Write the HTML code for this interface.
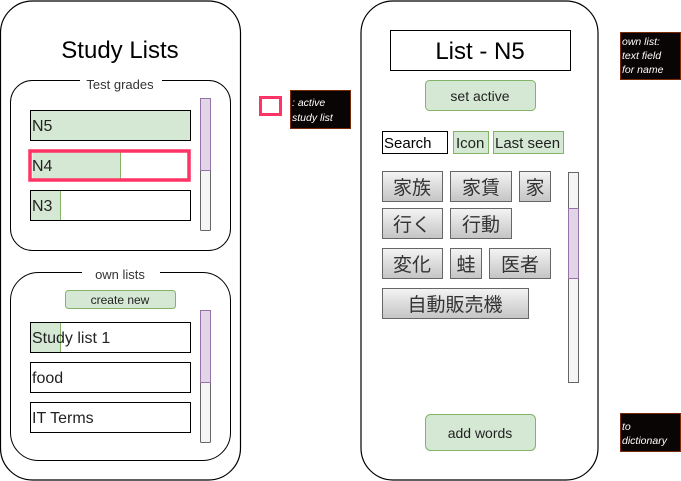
<!DOCTYPE html>
<html><head><meta charset="utf-8"><style>
html,body{margin:0;padding:0;background:#fff;}
svg{display:block;}
text{font-family:"Liberation Sans","Noto Sans CJK JP",sans-serif;}
</style></head><body>
<svg width="681" height="481" viewBox="0 0 681 481" xmlns="http://www.w3.org/2000/svg">
<defs>
<linearGradient id="g" x1="0" y1="0" x2="0" y2="1"><stop offset="0" stop-color="#f4f4f4"/><stop offset="1" stop-color="#c4c4c4"/></linearGradient>
</defs>
<!-- Left panel -->
<rect x="0.5" y="1" width="240" height="479" rx="32" fill="#fff" stroke="#000" stroke-width="1.2"/>
<text x="120" y="58" font-size="24" text-anchor="middle" fill="#000">Study Lists</text>
<rect x="10.5" y="80.5" width="220" height="170" rx="22" fill="none" stroke="#000"/>
<rect x="80" y="76" width="82" height="10" fill="#fff"/>
<text x="120" y="89" font-size="13" text-anchor="middle" fill="#333">Test grades</text>
<rect x="30.5" y="110.5" width="160" height="30" fill="#d5e8d4" stroke="#000"/>
<text x="32" y="131" font-size="16" fill="#222">N5</text>
<rect x="32.5" y="152.5" width="156" height="26" fill="#fff"/>
<rect x="32.5" y="152.5" width="88" height="26" fill="#d5e8d4"/>
<line x1="120.5" y1="152" x2="120.5" y2="179" stroke="#82b366"/>
<rect x="30" y="151" width="159" height="29" fill="none" stroke="#ff3366" stroke-width="3.5"/>
<text x="32" y="171" font-size="16" fill="#222">N4</text>
<rect x="30.5" y="190.5" width="160" height="30" fill="#fff" stroke="#000"/>
<rect x="31" y="191" width="29" height="29" fill="#d5e8d4"/>
<line x1="60.5" y1="191" x2="60.5" y2="220" stroke="#82b366"/>
<text x="32" y="211" font-size="16" fill="#222">N3</text>
<rect x="200.5" y="98.5" width="10" height="132" rx="1" fill="#f5f5f5" stroke="#666"/>
<rect x="200.5" y="98.5" width="10" height="72" fill="#e1d5e7" stroke="#9673a6"/>

<rect x="10.5" y="272.5" width="220" height="188" rx="28" fill="none" stroke="#000"/>
<rect x="82" y="268" width="78" height="10" fill="#fff"/>
<text x="120" y="279" font-size="13" text-anchor="middle" fill="#333">own lists</text>
<rect x="65.5" y="290.5" width="110" height="18" rx="3" fill="#d5e8d4" stroke="#82b366"/>
<text x="120" y="304" font-size="12" text-anchor="middle" fill="#222">create new</text>
<rect x="30.5" y="322.5" width="160" height="30" fill="#fff" stroke="#000"/>
<rect x="31" y="323" width="29" height="29" fill="#d5e8d4"/>
<line x1="60.5" y1="323" x2="60.5" y2="352" stroke="#82b366"/>
<text x="32" y="343" font-size="16" fill="#222">Study list 1</text>
<rect x="30.5" y="362.5" width="160" height="30" fill="#fff" stroke="#000"/>
<text x="32" y="383" font-size="16" fill="#222">food</text>
<rect x="30.5" y="402.5" width="160" height="30" fill="#fff" stroke="#000"/>
<text x="32" y="423" font-size="16" fill="#222">IT Terms</text>
<rect x="200.5" y="310.5" width="10" height="132" rx="1" fill="#f5f5f5" stroke="#666"/>
<rect x="200.5" y="310.5" width="10" height="72" fill="#e1d5e7" stroke="#9673a6"/>

<!-- legend -->
<rect x="260.5" y="97.5" width="20" height="17" fill="#fff" stroke="#ff3366" stroke-width="3"/>
<rect x="290.5" y="90.5" width="60" height="38" fill="#0a0505" stroke="#7a2a0a"/>
<text x="292" y="106" font-size="10.5" font-style="italic" fill="#fff">: active</text>
<text x="292" y="121" font-size="10.5" font-style="italic" fill="#fff">study list</text>

<!-- Right panel -->
<rect x="361" y="1" width="237" height="479" rx="32" fill="#fff" stroke="#000" stroke-width="1.2"/>
<rect x="390.5" y="30.5" width="180" height="40" fill="#fff" stroke="#000"/>
<text x="480" y="59" font-size="24" text-anchor="middle" fill="#000">List - N5</text>
<rect x="425.5" y="80.5" width="110" height="30" rx="4" fill="#d5e8d4" stroke="#82b366"/>
<text x="480" y="101" font-size="14" text-anchor="middle" fill="#222">set active</text>
<rect x="382.5" y="131.5" width="65" height="22" fill="#fff" stroke="#000"/>
<text x="384" y="148" font-size="15" fill="#000">Search</text>
<rect x="453.5" y="131.5" width="35" height="22" fill="#d5e8d4" stroke="#82b366"/>
<text x="456" y="148" font-size="15" fill="#222">Icon</text>
<rect x="493.5" y="131.5" width="70" height="22" fill="#d5e8d4" stroke="#82b366"/>
<text x="495" y="148" font-size="15" fill="#222">Last seen</text>

<g stroke="#666" fill="url(#g)">
<rect x="382.5" y="171.5" width="60" height="30"/>
<rect x="450.5" y="171.5" width="61" height="30"/>
<rect x="519.5" y="171.5" width="31" height="30"/>
<rect x="382.5" y="208.5" width="60" height="30"/>
<rect x="450.5" y="208.5" width="61" height="30"/>
<rect x="382.5" y="248.5" width="60" height="30"/>
<rect x="450.5" y="248.5" width="31" height="30"/>
<rect x="489.5" y="248.5" width="61" height="30"/>
<rect x="382.5" y="288.5" width="146" height="30"/>
</g>
<g font-size="19" fill="#333" text-anchor="middle">
<text x="412" y="194">家族</text>
<text x="481" y="194">家賃</text>
<text x="535" y="194">家</text>
<text x="412" y="231">行く</text>
<text x="481" y="231">行動</text>
<text x="412" y="271">変化</text>
<text x="466" y="271">蛙</text>
<text x="520" y="271">医者</text>
<text x="455" y="311">自動販売機</text>
</g>
<rect x="568.5" y="172.5" width="10" height="210" fill="#f5f5f5" stroke="#666"/>
<rect x="568.5" y="208.5" width="10" height="70" fill="#e1d5e7" stroke="#9673a6"/>
<rect x="425.5" y="414.5" width="110" height="36" rx="5" fill="#d5e8d4" stroke="#82b366"/>
<text x="480" y="438" font-size="14" text-anchor="middle" fill="#222">add words</text>

<!-- notes -->
<rect x="620.5" y="32.5" width="60" height="47" fill="#0a0505" stroke="#7a2a0a"/>
<text x="622" y="45" font-size="10.5" font-style="italic" fill="#fff">own list:</text>
<text x="622" y="59" font-size="10.5" font-style="italic" fill="#fff">text field</text>
<text x="622" y="73" font-size="10.5" font-style="italic" fill="#fff">for name</text>
<rect x="620.5" y="413.5" width="60" height="38" fill="#0a0505" stroke="#7a2a0a"/>
<text x="622" y="430" font-size="10.5" font-style="italic" fill="#fff">to</text>
<text x="622" y="444" font-size="10.5" font-style="italic" fill="#fff">dictionary</text>
</svg>
</body></html>
